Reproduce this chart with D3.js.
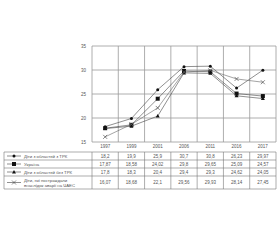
<!DOCTYPE html>
<html>
<head>
<meta charset="utf-8">
<script src="https://cdn.jsdelivr.net/npm/d3@7"></script>
<style>
  body { margin: 0; background: #fff; }
  svg { display: block; font-family: "Liberation Sans", Arial, sans-serif; }
</style>
</head>
<body>
<svg id="chart" width="280" height="240"></svg>
<script>
const years = ["1997", "1999", "2001", "2006", "2011", "2016", "2017"];
const yTicks = [15, 20, 25, 30, 35];

const trk = [18.2, 19.9, 25.9, 30.7, 30.8, 26.23, 29.97];
const ukraine = [17.87, 18.58, 24.02, 29.8, 29.65, 25.09, 24.57];
const noTrk = [17.8, 18.3, 20.4, 29.4, 29.3, 24.62, 24.05];
const chaes = [16.07, 18.68, 22.1, 29.56, 29.93, 28.14, 27.45];

const seriesNames = [
    ["Діти з областей з ТРК"],
    ["Україна"],
    ["Діти з областей без ТРК"],
    ["Діти, які постраждали", "внаслідок аварії на ЧАЕС"]
];
const seriesLabels = [
    ["18,2", "19,9", "25,9", "30,7", "30,8", "26,23", "29,97"],
    ["17,87", "18,58", "24,02", "29,8", "29,65", "25,09", "24,57"],
    ["17,8", "18,3", "20,4", "29,4", "29,3", "24,62", "24,05"],
    ["16,07", "18,68", "22,1", "29,56", "29,93", "28,14", "27,45"]
];
const series = [trk, ukraine, noTrk, chaes];
const markers = ["dot", "square", "triangle", "cross"];

const svg = d3.select("#chart");
const gridColor = "#999";
const lineColor = "#444";
const textColor = "#555";

const x = d3.scaleBand().domain(years).range([92, 276]);
const y = d3.scaleLinear().domain([15, 35]).range([142, 46]);

// plot frame and grid
svg.append("g").selectAll("line.h").data(yTicks).enter().append("line")
    .attr("x1", 92).attr("x2", 276)
    .attr("y1", d => y(d)).attr("y2", d => y(d))
    .attr("stroke", gridColor).attr("stroke-width", 0.8);

const vlines = years.map(d => x(d)).concat([276]);
svg.append("g").selectAll("line.v").data(vlines).enter().append("line")
    .attr("x1", d => d).attr("x2", d => d)
    .attr("y1", y(35)).attr("y2", y(15))
    .attr("stroke", gridColor).attr("stroke-width", 0.8);

// y tick labels
svg.append("g").selectAll("text").data(yTicks).enter().append("text")
    .attr("x", 86).attr("y", d => y(d) + 1.5)
    .attr("text-anchor", "end")
    .attr("font-size", 4.5).attr("fill", textColor)
    .text(d => d);

// year labels
svg.append("g").selectAll("text").data(years).enter().append("text")
    .attr("x", d => x(d) + x.bandwidth() / 2).attr("y", 148)
    .attr("text-anchor", "middle")
    .attr("font-size", 4.5).attr("fill", textColor)
    .text(d => d);

function drawMarker(g, type, cx, cy) {
    if (type === "dot") {
        g.append("circle").attr("cx", cx).attr("cy", cy).attr("r", 1.5).attr("fill", "#111");
    } else if (type === "square") {
        g.append("rect").attr("x", cx - 2).attr("y", cy - 2).attr("width", 4).attr("height", 4).attr("fill", "#111");
    } else if (type === "triangle") {
        g.append("path").attr("d", `M${cx},${cy - 2}L${cx + 2},${cy + 1.5}L${cx - 2},${cy + 1.5}Z`).attr("fill", "#111");
    } else {
        g.append("path").attr("d", `M${cx - 2},${cy - 2}L${cx + 2},${cy + 2}M${cx - 2},${cy + 2}L${cx + 2},${cy - 2}`)
            .attr("stroke", "#555").attr("stroke-width", 0.7);
    }
}

const line = d3.line()
    .x((d, i) => x(years[i]) + x.bandwidth() / 2)
    .y(d => y(d));

series.forEach((s, k) => {
    const g = svg.append("g");
    g.append("path").attr("d", line(s))
        .attr("fill", "none").attr("stroke", k === 3 ? "#666" : lineColor).attr("stroke-width", 0.6);
    s.forEach((v, i) => drawMarker(g, markers[k], x(years[i]) + x.bandwidth() / 2, y(v)));
});

// data table
const rowTops = [152, 160, 168, 176];
const rowH = [8, 8, 8, 13];
const tableBottom = 189;
const tg = svg.append("g");
rowTops.concat([tableBottom]).forEach(t => {
    tg.append("line").attr("x1", 4).attr("x2", 276).attr("y1", t).attr("y2", t)
        .attr("stroke", "#777").attr("stroke-width", 0.6);
});
[4].concat(vlines).forEach(v => {
    tg.append("line").attr("x1", v).attr("x2", v).attr("y1", 152).attr("y2", tableBottom)
        .attr("stroke", "#777").attr("stroke-width", 0.6);
});

seriesNames.forEach((name, k) => {
    const cy = rowTops[k] + rowH[k] / 2;
    tg.append("line").attr("x1", 7).attr("x2", 21).attr("y1", cy).attr("y2", cy)
        .attr("stroke", lineColor).attr("stroke-width", 0.6);
    drawMarker(tg, markers[k], 14, cy);
    name.forEach((ln, j) => {
        tg.append("text")
            .attr("x", 24)
            .attr("y", cy + 1.5 + (j - (name.length - 1) / 2) * 5)
            .attr("font-size", 4.3).attr("fill", textColor)
            .text(ln);
    });
    seriesLabels[k].forEach((lbl, i) => {
        tg.append("text")
            .attr("x", x(years[i]) + x.bandwidth() / 2).attr("y", cy + 1.5)
            .attr("text-anchor", "middle")
            .attr("font-size", 4.5).attr("fill", textColor)
            .text(lbl);
    });
});
</script>
</body>
</html>
